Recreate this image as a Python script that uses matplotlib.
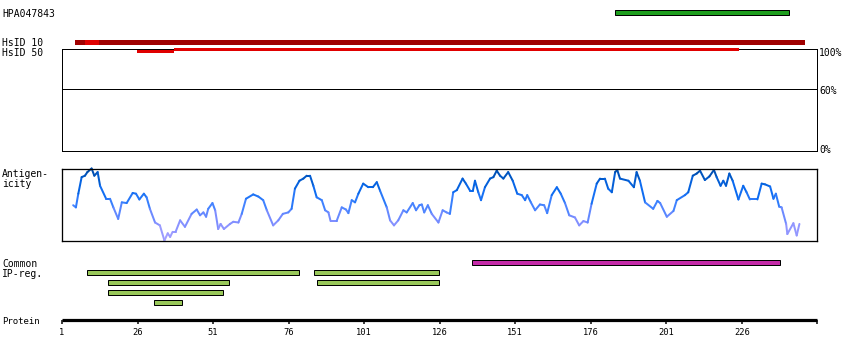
import numpy as np
import matplotlib
matplotlib.use("Agg")
import matplotlib.pyplot as plt
from matplotlib.collections import LineCollection
from matplotlib.colors import LinearSegmentedColormap

# ---------------- data ----------------
protein_length = 251
tick_residues = [1, 26, 51, 76, 101, 126, 151, 176, 201, 226]

antibody_name = "HPA047843"
antigen_start, antigen_end = 184, 241.5

hsid10_start, hsid10_end = 5.3, 246.9
hsid10_hi_start, hsid10_hi_end = 8.6, 13.2
hsid50_seg1 = (25.8, 38.1)
hsid50_seg2 = (38.1, 225.1)

ipreg_green_starts = [9.4, 84.5, 16.3, 85.5, 16.3, 31.6]
ipreg_green_ends = [79.5, 125.7, 56.4, 125.7, 54.4, 40.6]
ipreg_green_rows = [0, 0, 1, 1, 2, 3]
ipreg_magenta_start, ipreg_magenta_end = 136.6, 238.8

identity_levels = [100, 60, 0]

antig_res = [4.7, 5.6, 6.4, 7.5, 8.6, 9.4, 10.8, 11.7, 12.8, 13.6, 15.6, 16.9, 18.0, 19.6,
             20.8, 22.4, 24.4, 25.5, 26.6, 28.1, 29.0, 30.1, 31.8, 33.4, 34.9, 36.0, 36.8,
             37.6, 38.6, 40.1, 41.7, 43.9, 45.6, 46.7, 47.8, 48.7, 49.4, 50.8, 51.7, 52.7,
             53.5, 54.6, 56.6, 57.7, 59.4, 60.5, 61.9, 64.3, 66.0, 67.6, 68.8, 70.9, 72.6,
             74.1, 75.9, 77.0, 78.1, 79.6, 80.9, 82.0, 83.1, 84.2, 85.3, 87.0, 88.1, 89.2,
             89.9, 91.9, 93.6, 95.0, 95.8, 96.9, 98.0, 99.1, 100.7, 102.4, 103.9, 105.2,
             106.3, 108.5, 109.6, 110.9, 112.3, 114.0, 115.1, 117.1, 118.2, 119.3, 120.1,
             120.9, 122.1, 123.4, 125.6, 127.0, 128.3, 129.4, 130.5, 131.7, 133.6, 134.7,
             136.1, 137.0, 137.7, 138.8, 139.7, 141.0, 142.7, 143.8, 144.9, 146.0, 147.1,
             148.7, 150.2, 151.7, 153.2, 154.3, 155.0, 156.2, 157.6, 159.2, 160.6, 161.6,
             163.1, 164.8, 166.1, 167.5, 168.9, 170.8, 172.2, 173.6, 175.0, 176.3, 178.0,
             179.1, 180.7, 181.8, 183.0, 184.1, 184.8, 185.7, 188.5, 190.3, 191.2, 192.3,
             194.0, 196.7, 198.1, 199.0, 201.2, 203.4, 204.5, 207.2, 208.3, 209.8, 211.1,
             212.2, 213.8, 215.3, 216.8, 217.7, 219.0, 219.9, 220.8, 221.9, 223.0, 224.9,
             226.5, 227.6, 228.7, 231.2, 232.6, 233.7, 235.4, 236.5, 237.3, 238.4, 239.2,
             240.7, 241.1, 243.1, 244.2, 245.1]
antig_val = [49, 46, 65, 88, 90, 95, 100, 90, 95, 76, 58, 58, 46, 30,
             53, 52, 66, 65, 57, 65, 60, 44, 25, 21, 0, 10, 5,
             12, 12, 28, 19, 37, 43, 35, 39, 33, 44, 52, 42, 16,
             23, 16, 23, 26, 25, 37, 58, 64, 61, 56, 42, 21, 28,
             37, 39, 44, 72, 83, 86, 90, 90, 76, 60, 56, 42, 39,
             27, 27, 46, 43, 38, 56, 53, 65, 79, 74, 74, 81,
             69, 46, 28, 21, 28, 42, 39, 52, 42, 49, 50,
             39, 49, 37, 25, 42, 39, 37, 67, 70, 86, 79,
             69, 69, 83, 67, 56, 74, 86, 88, 97, 90, 86,
             95, 83, 65, 63, 56, 63, 53, 42, 50, 49, 38,
             63, 74, 65, 52, 35, 32, 21, 27, 25, 51, 79,
             86, 86, 72, 67, 95, 98, 86, 83, 74, 95, 83,
             53, 44, 55, 52, 33, 41, 56, 63, 67, 90, 93,
             97, 84, 89, 98, 88, 76, 83, 76, 93, 83, 57,
             76, 67, 57, 57, 79, 78, 75, 58, 65, 47, 46,
             23, 9, 24, 7, 23]

# ---------------- layout helpers ----------------
W, H = 850, 360
PX0, PXR = 62.0, 3.021          # pixel of residue 1, pixels per residue

def res_at(px):
    return 1 + (px - PX0) / PXR

fig = plt.figure(figsize=(W / 100, H / 100), dpi=100)

def add_px_axes(x0, y0, x1, y1):
    return fig.add_axes([x0 / W, 1 - y1 / H, (x1 - x0) / W, (y1 - y0) / H])

PX = 0.72  # one pixel in points
mono = "DejaVu Sans Mono"

# identity panel
idax = add_px_axes(61.5, 48.5, 817, 150.5)
idax.set_xlim(res_at(61.5), res_at(817))
idax.set_ylim(0, 100)
idax.set_xticks([]); idax.set_yticks([])
for s in idax.spines.values():
    s.set_linewidth(PX)
idax.axhline(identity_levels[1], color="black", lw=PX)

# antigenicity panel
agax = add_px_axes(61.5, 168.5, 817, 240.5)
agax.set_xlim(res_at(61.5), res_at(817))
agax.set_ylim(0, 100)
agax.set_xticks([]); agax.set_yticks([])
for s in agax.spines.values():
    s.set_linewidth(1.3 * PX)

cmap = LinearSegmentedColormap.from_list(
    "antig", [(0.0, "#aaa2ff"), (0.3, "#7b8cff"), (0.5, "#3d82ff"),
              (0.7, "#0a6af0"), (0.88, "#0058c8"), (1.0, "#0048a0")])
x = np.array(antig_res); y = np.array(antig_val, dtype=float)
pts = np.column_stack([x, y]).reshape(-1, 1, 2)
segs = np.concatenate([pts[:-1], pts[1:]], axis=1)
mid = (y[:-1] + y[1:]) / 2 / 100
lc = LineCollection(segs, colors=cmap(mid), linewidths=2.0 * PX, clip_on=False,
                    capstyle="round")
agax.add_collection(lc)

# overlay axes on top: x in residues, y in pixel rows
ov = add_px_axes(0, 0, W, H)
ov.set_xlim(res_at(0), res_at(W))
ov.set_ylim(H, 0)
ov.axis("off")
ov.set_zorder(10)
ov.patch.set_visible(False)

# ---------------- bars ----------------
ov.barh(12.5, antigen_end - antigen_start, left=antigen_start, height=4.5,
        color="#1e9e1e", edgecolor="black", linewidth=PX)
ov.barh(42.5, hsid10_end - hsid10_start, left=hsid10_start, height=5,
        color="#a00000", linewidth=0)
ov.barh(42.5, hsid10_hi_end - hsid10_hi_start, left=hsid10_hi_start, height=5,
        color="#e00000", linewidth=0)
ov.barh(51.4, hsid50_seg1[1] - hsid50_seg1[0], left=hsid50_seg1[0], height=2.6,
        color="#e00000", linewidth=0)
ov.barh(49.6, hsid50_seg2[1] - hsid50_seg2[0], left=hsid50_seg2[0], height=2.6,
        color="#e00000", linewidth=0)

row_y = [272.3, 282.3, 292.3, 302.3]
for s, e, r in zip(ipreg_green_starts, ipreg_green_ends, ipreg_green_rows):
    ov.barh(row_y[r], e - s, left=s, height=4.5, color="#99c85a",
            edgecolor="black", linewidth=PX)
ov.barh(262.3, ipreg_magenta_end - ipreg_magenta_start, left=ipreg_magenta_start,
        height=4.5, color="#c42aa8", edgecolor="black", linewidth=PX)

# ---------------- protein axis ----------------
ov.plot([1, protein_length], [319.8, 319.8], color="black", lw=3.2 * PX,
        solid_capstyle="butt")
for t in tick_residues + [protein_length]:
    ov.plot([t, t], [319.8, 324], color="black", lw=1.5 * PX, solid_capstyle="butt")
for t in tick_residues:
    ov.text(t, 335, str(t), ha="center", va="baseline", fontsize=6.3, family=mono)

# ---------------- labels ----------------
def lab(xp, yp, s, size=7, ha="left"):
    ov.text(res_at(xp), yp, s, ha=ha, va="baseline", fontsize=size, family=mono)

lab(2, 16.7, antibody_name)
lab(2, 46, "HsID 10")
lab(2, 56, "HsID 50")
lab(2, 176.7, "Antigen-")
lab(2, 187, "icity")
lab(2, 266.7, "Common")
lab(2, 277.3, "IP-reg.")
lab(2, 324, "Protein", size=6.5)
lab(819, 55.7, f"{identity_levels[0]}%")
lab(819, 93.5, f"{identity_levels[1]}%")
lab(819, 153, f"{identity_levels[2]}%")

fig.savefig("out.png", dpi=100)
